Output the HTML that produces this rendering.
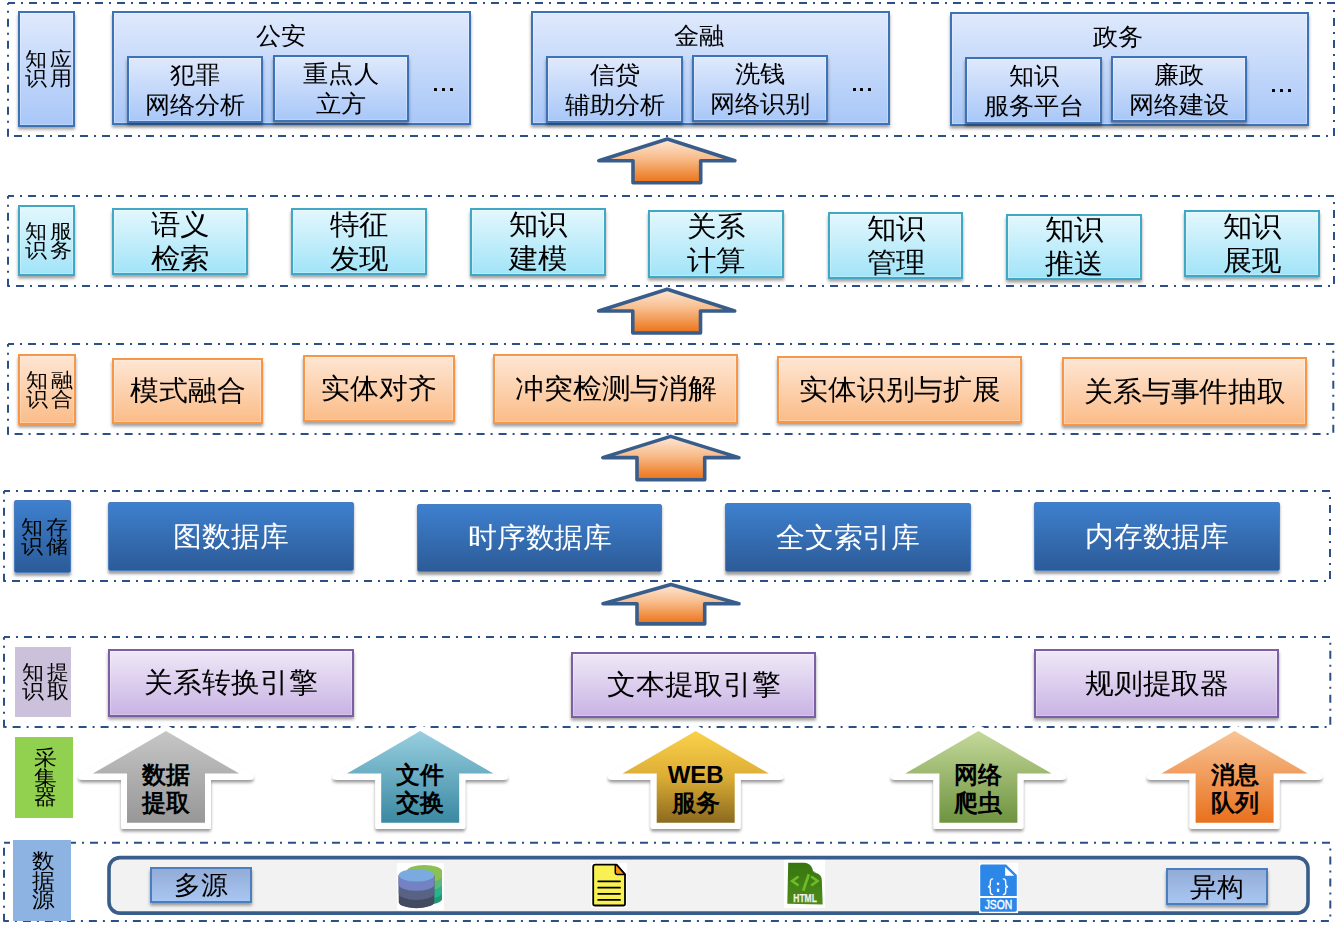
<!DOCTYPE html>
<html><head><meta charset="utf-8"><style>
*{margin:0;padding:0;box-sizing:border-box}
html,body{width:1342px;height:925px;overflow:hidden;background:#fff;font-family:"Liberation Sans", sans-serif;color:#000}
.ov{position:absolute;left:0;top:0}
.bx{position:absolute;display:flex;align-items:center;justify-content:center;text-align:center;box-shadow:0 2.5px 3px rgba(0,0,0,.38)}
.app,.svc,.fus,.ext{box-shadow:inset 0 0 0 1px rgba(255,255,255,.25),0 2.5px 3px rgba(0,0,0,.38)}
.app{border:2px solid #3e72b6;background:linear-gradient(#dfe9fc,#a8c7f8)}
.svc{border:2px solid #40a7c4;background:linear-gradient(#e2f7fd,#a2e4f8)}
.fus{border:2px solid #f79646;background:linear-gradient(#fee6d3,#fbbc88)}
.sto{background:linear-gradient(#3e80ce,#2c5b98);border:1.5px solid #4a7dbf;border-radius:2px}
.ext{border:2px solid #7c5fa3;background:linear-gradient(#efe8f7,#c9b3e4)}
.lab{display:grid;grid-template-columns:repeat(2,auto);justify-content:center;align-content:center;font-size:20px;line-height:19px;column-gap:5px;padding-left:4px}
.lab span{display:inline-block;transform:scaleX(1.1)}
.ext.lab{background:#ccc1da;border:none;box-shadow:none}
.sub{font-size:24px;line-height:30px;padding-top:1px}
.tx{display:inline-block;transform:scaleX(1.03)}
.sub .tx,.big2 .tx,.ttl{transform:scaleX(1.05)}
.ttl{position:absolute;text-align:center;font-size:24px;line-height:28px}
.dt{position:absolute;width:3px;height:3px;background:#000;border-radius:0.5px}
.big2{font-size:28px;line-height:34px}
.big1{font-size:28px;line-height:32px}
.sto.big1{color:#fff}
.vlab span{display:inline-block;transform:scaleX(1.08)}
.vlab{font-size:20.5px;line-height:19.5px;box-shadow:none;padding-left:3.5px}
.col{background:#92d050}
.src{background:#8db3e2}
.srcb{border:2px solid #4a7ebf;background:linear-gradient(#93acd7,#a8c6f2);font-size:26px;line-height:30px}
.ctx{position:absolute;text-align:center;font-weight:bold;font-size:24px;line-height:28px}
</style></head><body>
<svg class="ov" width="1342" height="925" viewBox="0 0 1342 925"><defs>
<linearGradient id="og" x1="0" y1="0" x2="0" y2="1"><stop offset="0" stop-color="#fde8d6"/><stop offset="0.45" stop-color="#f8bb8a"/><stop offset="1" stop-color="#eb7216"/></linearGradient>
<linearGradient id="g1" x1="0" y1="0" x2="0" y2="1"><stop offset="0" stop-color="#c6c6c6"/><stop offset="1" stop-color="#979797"/></linearGradient>
<linearGradient id="g2" x1="0" y1="0" x2="0" y2="1"><stop offset="0" stop-color="#98cfe0"/><stop offset="1" stop-color="#3a88a2"/></linearGradient>
<linearGradient id="g3" x1="0" y1="0" x2="0" y2="1"><stop offset="0" stop-color="#fbd24a"/><stop offset="0.5" stop-color="#dcad35"/><stop offset="1" stop-color="#8b6a1e"/></linearGradient>
<linearGradient id="g4" x1="0" y1="0" x2="0" y2="1"><stop offset="0" stop-color="#c5d99b"/><stop offset="1" stop-color="#6e933f"/></linearGradient>
<linearGradient id="g5" x1="0" y1="0" x2="0" y2="1"><stop offset="0" stop-color="#f8c597"/><stop offset="1" stop-color="#e8701c"/></linearGradient>
<linearGradient id="hg" x1="0" y1="0" x2="0" y2="1"><stop offset="0" stop-color="#387510"/><stop offset="1" stop-color="#4c8c17"/></linearGradient>
<filter id="sh" x="-20%" y="-20%" width="140%" height="140%"><feDropShadow dx="0" dy="2.5" stdDeviation="1.8" flood-color="#000" flood-opacity="0.4"/></filter>
</defs><path d="M8,3 H1334 V136 H8" fill="none" stroke="#2b5087" stroke-width="2" stroke-dasharray="8 6 2 6" stroke-dashoffset="1"/><path d="M8,136.7 V3" fill="none" stroke="#2b5087" stroke-width="2" stroke-dasharray="8 6 2 6"/><path d="M8,196 H1334 V286 H8" fill="none" stroke="#2b5087" stroke-width="2" stroke-dasharray="8 6 2 6" stroke-dashoffset="2"/><path d="M8,286.7 V196" fill="none" stroke="#2b5087" stroke-width="2" stroke-dasharray="8 6 2 6"/><path d="M8,344 H1333.3 V434 H8" fill="none" stroke="#2b5087" stroke-width="2" stroke-dasharray="8 6 2 6" stroke-dashoffset="2"/><path d="M8,434.7 V344" fill="none" stroke="#2b5087" stroke-width="2" stroke-dasharray="8 6 2 6"/><path d="M4,491 H1330 V581 H4" fill="none" stroke="#2b5087" stroke-width="2" stroke-dasharray="8 6 2 6" stroke-dashoffset="2"/><path d="M4,581.7 V491" fill="none" stroke="#2b5087" stroke-width="2" stroke-dasharray="8 6 2 6"/><path d="M4,637 H1330.3 V727 H4" fill="none" stroke="#2b5087" stroke-width="2" stroke-dasharray="8 6 2 6" stroke-dashoffset="2"/><path d="M4,727.7 V637" fill="none" stroke="#2b5087" stroke-width="2" stroke-dasharray="8 6 2 6"/><path d="M4,842.7 H1330.3 V921 H4" fill="none" stroke="#2b5087" stroke-width="2" stroke-dasharray="8 6 2 6" stroke-dashoffset="2"/><path d="M4,921.7 V842.7" fill="none" stroke="#2b5087" stroke-width="2" stroke-dasharray="8 6 2 6"/><path d="M667.4,139 L734.9,160.8 L700.7,160.8 L700.7,182.7 L633,182.7 L633,160.8 L598.8,160.8 Z" fill="url(#og)" stroke="#385d8a" stroke-width="3.6" stroke-linejoin="round"/><path d="M667.2,289.3 L734.7,311 L700.5,311 L700.5,333 L632.8,333 L632.8,311 L598.6,311 Z" fill="url(#og)" stroke="#385d8a" stroke-width="3.6" stroke-linejoin="round"/><path d="M670.7,436.4 L738.9,457.6 L704.7,457.6 L704.7,479.7 L637,479.7 L637,457.6 L602.8,457.6 Z" fill="url(#og)" stroke="#385d8a" stroke-width="3.6" stroke-linejoin="round"/><path d="M670.9,584.5 L739,603.8 L704.7,603.8 L704.7,623.9 L637,623.9 L637,603.8 L603,603.8 Z" fill="url(#og)" stroke="#385d8a" stroke-width="3.6" stroke-linejoin="round"/><path d="M166,724.5 L250.5,773.0 Q258,779.6 248,779.9 L211,779.9 L211,826.8 Q211,829.0999999999999 208,829.0999999999999 L124,829.0999999999999 Q121,829.0999999999999 121,826.8 L121,779.9 L84,779.9 Q74,779.6 81.5,773.0 Z" fill="#fff" filter="url(#sh)"/><path d="M166,731 L239.2,773.6 L205,773.6 L205,822.8 L127,822.8 L127,773.6 L92.8,773.6 Z" fill="url(#g1)"/><path d="M420.2,724.5 L504.7,773.0 Q512.2,779.6 502.2,779.9 L465.2,779.9 L465.2,826.8 Q465.2,829.0999999999999 462.2,829.0999999999999 L378.2,829.0999999999999 Q375.2,829.0999999999999 375.2,826.8 L375.2,779.9 L338.2,779.9 Q328.2,779.6 335.7,773.0 Z" fill="#fff" filter="url(#sh)"/><path d="M420.2,731 L493.4,773.6 L459.2,773.6 L459.2,822.8 L381.2,822.8 L381.2,773.6 L347.0,773.6 Z" fill="url(#g2)"/><path d="M695.7,724.5 L780.2,773.0 Q787.7,779.6 777.7,779.9 L740.7,779.9 L740.7,826.8 Q740.7,829.0999999999999 737.7,829.0999999999999 L653.7,829.0999999999999 Q650.7,829.0999999999999 650.7,826.8 L650.7,779.9 L613.7,779.9 Q603.7,779.6 611.2,773.0 Z" fill="#fff" filter="url(#sh)"/><path d="M695.7,731 L768.9000000000001,773.6 L734.7,773.6 L734.7,822.8 L656.7,822.8 L656.7,773.6 L622.5,773.6 Z" fill="url(#g3)"/><path d="M978.4,724.5 L1062.9,773.0 Q1070.4,779.6 1060.4,779.9 L1023.4,779.9 L1023.4,826.8 Q1023.4,829.0999999999999 1020.4,829.0999999999999 L936.4,829.0999999999999 Q933.4,829.0999999999999 933.4,826.8 L933.4,779.9 L896.4,779.9 Q886.4,779.6 893.9,773.0 Z" fill="#fff" filter="url(#sh)"/><path d="M978.4,731 L1051.6,773.6 L1017.4,773.6 L1017.4,822.8 L939.4,822.8 L939.4,773.6 L905.1999999999999,773.6 Z" fill="url(#g4)"/><path d="M1234.6,724.5 L1319.1,773.0 Q1326.6,779.6 1316.6,779.9 L1279.6,779.9 L1279.6,826.8 Q1279.6,829.0999999999999 1276.6,829.0999999999999 L1192.6,829.0999999999999 Q1189.6,829.0999999999999 1189.6,826.8 L1189.6,779.9 L1152.6,779.9 Q1142.6,779.6 1150.1,773.0 Z" fill="#fff" filter="url(#sh)"/><path d="M1234.6,731 L1307.8,773.6 L1273.6,773.6 L1273.6,822.8 L1195.6,822.8 L1195.6,773.6 L1161.3999999999999,773.6 Z" fill="url(#g5)"/><rect x="109" y="857.6" width="1199" height="55.5" rx="11" ry="11" fill="#f2f2f2" stroke="#385d8a" stroke-width="3.6"/>
<rect x="397.1" y="863.1" width="46.7" height="46.9" fill="#fff"/>
<path d="M406.8,871 V899 A17.6,6 0 0 0 442,899 V871 Z" fill="#1f9a72"/>
<path d="M406.8,871 V893.1 A17.6,6 0 0 0 442,893.1 V871 Z" fill="#2ab38a"/>
<path d="M406.8,871 V884.6 A17.6,6 0 0 0 442,884.6 V871 Z" fill="#5db87a"/>
<path d="M406.8,871 V876.2 A17.6,6 0 0 0 442,876.2 V871 Z" fill="#8bc152"/>
<ellipse cx="424.4" cy="871" rx="17.6" ry="6" fill="#8bc152"/>
<path d="M398.7,875.3 V901.9 A17.8,6.3 0 0 0 434.3,901.9 V875.3 Z" fill="#434b63"/>
<path d="M398.7,875.3 V893.6 A17.8,6.3 0 0 0 434.3,893.6 V875.3 Z" fill="#576285"/>
<path d="M398.7,875.3 V884.5 A17.8,6.3 0 0 0 434.3,884.5 V875.3 Z" fill="#7282c2"/>
<ellipse cx="416.5" cy="875.3" rx="17.8" ry="6.3" fill="#7aaadf"/>

<rect x="591" y="862.8" width="35.8" height="45.2" fill="#fff"/>
<path d="M595.5,864.7 H616.5 L625,874.4 V903.7 Q625,905.5 623.2,905.5 H595.1 Q593.2,905.5 593.2,903.7 V866.7 Q593.2,864.7 595.5,864.7 Z" fill="#f9f152" stroke="#000" stroke-width="1.8" stroke-linejoin="round"/>
<path d="M616.5,864.7 L625,874.4 H617.3 Q615.3,874.4 615.3,872.4 V865 Z" fill="#f7941d" stroke="#000" stroke-width="1.5" stroke-linejoin="round"/>
<g stroke="#000" stroke-width="1.8" stroke-linecap="round"><line x1="598.2" y1="881.3" x2="620" y2="881.3"/><line x1="598.2" y1="887.7" x2="620" y2="887.7"/><line x1="598.2" y1="893.8" x2="620" y2="893.8"/><line x1="598.2" y1="899.9" x2="620" y2="899.9"/></g>

<rect x="783.9" y="859.9" width="41.2" height="48.1" fill="#fff"/>
<path d="M788.2,862.7 H804.2 C809,862.7 812.5,866.5 813,871.1 C815,871.8 816,872.6 816.5,873.3 C820,874 821.8,877 821.8,880.2 L822.7,904.4 L787.3,903.8 Z" fill="url(#hg)"/>
<path d="M813,871.1 C815,871.8 816,872.6 816.5,873.3 C815,872.8 813.8,872.4 813,871.1 Z" fill="#ddd"/>
<g stroke="#6dbb2a" stroke-width="2.7" fill="none"><polyline points="798.5,876.5 792.2,881 798.5,885.5"/><polyline points="811.2,876.5 817.5,881 811.2,885.5"/><line x1="808.8" y1="874.3" x2="803.2" y2="890.7"/></g>
<text x="805.1" y="901.6" font-family="Liberation Sans, sans-serif" font-weight="bold" font-size="10.4" fill="#f0f0f0" stroke="#f0f0f0" stroke-width="0.25" text-anchor="middle" textLength="23.6" lengthAdjust="spacingAndGlyphs">HTML</text>

<rect x="979.1" y="862.8" width="39" height="50.3" fill="#fff"/>
<path d="M981.7,864.4 H1006.1 L1016.8,875.1 V895.9 H980.2 V865.9 Q980.2,864.4 981.7,864.4 Z" fill="#2c87e8"/>
<path d="M1005.1,867 V875.8 H1014.2 Z" fill="#fff"/>
<path d="M980.2,898 H1016.8 V910 Q1016.8,911.8 1015,911.8 H982 Q980.2,911.8 980.2,910 Z" fill="#2c87e8"/>
<g fill="none" stroke="#fff" stroke-width="1.4" stroke-linecap="round"><path d="M992.6,878.9 C990.6,878.9 990.3,880.2 990.3,882 V884.6 C990.3,886 989.6,886.7 987.9,886.7 C989.6,886.7 990.3,887.4 990.3,888.8 V891.5 C990.3,893.4 990.6,894.6 992.6,894.6"/><path d="M1003.4,878.9 C1005.4,878.9 1005.7,880.2 1005.7,882 V884.6 C1005.7,886 1006.4,886.7 1008.1,886.7 C1006.4,886.7 1005.7,887.4 1005.7,888.8 V891.5 C1005.7,893.4 1005.4,894.6 1003.4,894.6"/></g>
<rect x="996.9" y="882.6" width="2.3" height="2.3" fill="#fff"/><rect x="996.9" y="888.7" width="2.3" height="3.3" fill="#fff"/>
<text x="998.5" y="908.9" font-family="Liberation Sans, sans-serif" font-size="12.2" fill="#fff" text-anchor="middle" textLength="27.6" lengthAdjust="spacingAndGlyphs" stroke="#fff" stroke-width="0.4">JSON</text>
</svg>
<div class="bx app lab" style="left:18px;top:11px;width:57px;height:116px;"><span>知</span><span>应</span><span>识</span><span>用</span></div>
<div class="bx app" style="left:112px;top:11px;width:359px;height:114px;"></div>
<div class="bx app" style="left:531px;top:11px;width:359px;height:114px;"></div>
<div class="bx app" style="left:950px;top:12px;width:359px;height:114px;"></div>
<div class="ttl" style="left:180.50px;top:21.5px;width:200px">公安</div>
<div class="bx app sub" style="left:127px;top:56px;width:136px;height:67px;"><span class="tx">犯罪<br>网络分析</span></div>
<div class="bx app sub" style="left:273px;top:55px;width:136px;height:67px;"><span class="tx">重点人<br>立方</span></div>
<div class="dt" style="left:434.40px;top:87.5px"></div>
<div class="dt" style="left:442.15px;top:87.5px"></div>
<div class="dt" style="left:449.90px;top:87.5px"></div>
<div class="ttl" style="left:599.30px;top:21.5px;width:200px">金融</div>
<div class="bx app sub" style="left:546px;top:56px;width:137px;height:67px;"><span class="tx">信贷<br>辅助分析</span></div>
<div class="bx app sub" style="left:692px;top:55px;width:136px;height:67px;"><span class="tx">洗钱<br>网络识别</span></div>
<div class="dt" style="left:852.50px;top:87.5px"></div>
<div class="dt" style="left:860.25px;top:87.5px"></div>
<div class="dt" style="left:868.00px;top:87.5px"></div>
<div class="ttl" style="left:1017.80px;top:22.8px;width:200px">政务</div>
<div class="bx app sub" style="left:965px;top:57px;width:137px;height:67px;"><span class="tx">知识<br>服务平台</span></div>
<div class="bx app sub" style="left:1111px;top:56px;width:136px;height:66px;"><span class="tx">廉政<br>网络建设</span></div>
<div class="dt" style="left:1272.00px;top:88.5px"></div>
<div class="dt" style="left:1279.75px;top:88.5px"></div>
<div class="dt" style="left:1287.50px;top:88.5px"></div>
<div class="bx svc lab" style="left:18px;top:205px;width:57px;height:71px;"><span>知</span><span>服</span><span>识</span><span>务</span></div>
<div class="bx svc big2" style="left:112px;top:208px;width:136px;height:67px;"><span class="tx">语义<br>检索</span></div>
<div class="bx svc big2" style="left:291px;top:208px;width:136px;height:67px;"><span class="tx">特征<br>发现</span></div>
<div class="bx svc big2" style="left:470px;top:208px;width:136px;height:68px;"><span class="tx">知识<br>建模</span></div>
<div class="bx svc big2" style="left:648px;top:210px;width:136px;height:68px;"><span class="tx">关系<br>计算</span></div>
<div class="bx svc big2" style="left:828px;top:212px;width:135px;height:67px;"><span class="tx">知识<br>管理</span></div>
<div class="bx svc big2" style="left:1006px;top:214px;width:136px;height:66px;"><span class="tx">知识<br>推送</span></div>
<div class="bx svc big2" style="left:1184px;top:210px;width:136px;height:67px;"><span class="tx">知识<br>展现</span></div>
<div class="bx fus lab" style="left:18px;top:354px;width:58px;height:71px;"><span>知</span><span>融</span><span>识</span><span>合</span></div>
<div class="bx fus big1" style="left:112px;top:358px;width:151px;height:66px;"><span class="tx">模式融合</span></div>
<div class="bx fus big1" style="left:303px;top:355px;width:152px;height:67px;"><span class="tx">实体对齐</span></div>
<div class="bx fus big1" style="left:493px;top:354px;width:245px;height:70px;"><span class="tx">冲突检测与消解</span></div>
<div class="bx fus big1" style="left:777px;top:356px;width:245px;height:67px;"><span class="tx">实体识别与扩展</span></div>
<div class="bx fus big1" style="left:1062px;top:357px;width:245px;height:69px;"><span class="tx">关系与事件抽取</span></div>
<div class="bx sto lab" style="left:14px;top:500px;width:57px;height:73px;"><span>知</span><span>存</span><span>识</span><span>储</span></div>
<div class="bx sto big1" style="left:108px;top:502px;width:246px;height:69px;"><span class="tx">图数据库</span></div>
<div class="bx sto big1" style="left:417px;top:504px;width:245px;height:68px;"><span class="tx">时序数据库</span></div>
<div class="bx sto big1" style="left:725px;top:503px;width:246px;height:69px;"><span class="tx">全文索引库</span></div>
<div class="bx sto big1" style="left:1034px;top:502px;width:246px;height:69px;"><span class="tx">内存数据库</span></div>
<div class="bx ext lab" style="left:15px;top:647px;width:56px;height:70px;"><span>知</span><span>提</span><span>识</span><span>取</span></div>
<div class="bx ext big1" style="left:108px;top:649px;width:246px;height:68px;"><span class="tx">关系转换引擎</span></div>
<div class="bx ext big1" style="left:571px;top:652px;width:245px;height:66px;"><span class="tx">文本提取引擎</span></div>
<div class="bx ext big1" style="left:1034px;top:649px;width:245px;height:69px;"><span class="tx">规则提取器</span></div>
<div class="bx col vlab" style="left:15px;top:737px;width:58px;height:81px;"><span>采<br>集<br>器</span></div>
<div class="bx src vlab" style="left:13px;top:840px;width:58px;height:81px;"><span>数<br>据<br>源</span></div>
<div class="bx srcb" style="left:150px;top:867px;width:102px;height:36px;"><span class="tx">多源</span></div>
<div class="bx srcb" style="left:1166px;top:868px;width:102px;height:37px;"><span class="tx">异构</span></div>
<div class="ctx" style="left:126px;top:761px;width:80px">数据<br>提取</div>
<div class="ctx" style="left:380.2px;top:761px;width:80px">文件<br>交换</div>
<div class="ctx" style="left:655.7px;top:761px;width:80px">WEB<br>服务</div>
<div class="ctx" style="left:938.4px;top:761px;width:80px">网络<br>爬虫</div>
<div class="ctx" style="left:1194.6px;top:761px;width:80px">消息<br>队列</div>
</body></html>
